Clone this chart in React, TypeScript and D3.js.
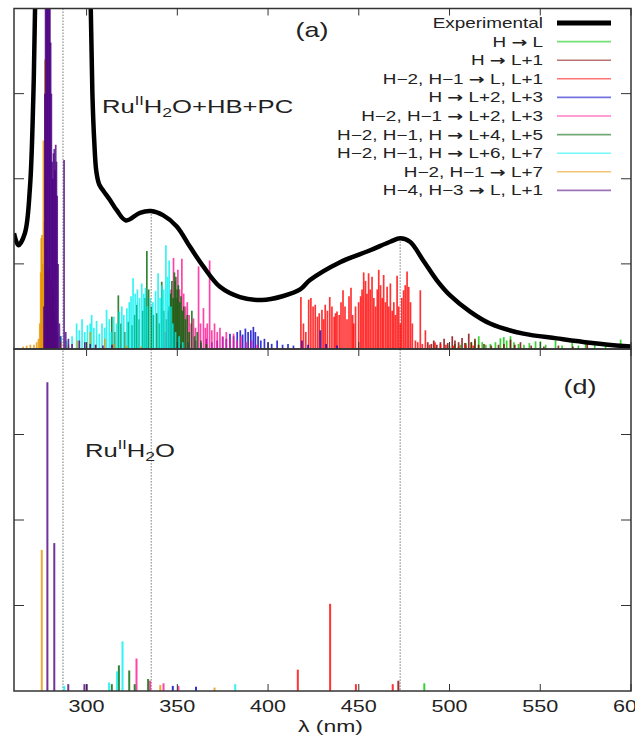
import React, { useEffect, useRef } from 'react';
import * as d3 from 'd3';

// legend order
const seriesLabels = [
  'H → L',
  'H → L+1',
  'H−2, H−1 → L, L+1',
  'H → L+2, L+3',
  'H−2, H−1 → L+2, L+3',
  'H−2, H−1, H → L+4, L+5',
  'H−2, H−1, H → L+6, L+7',
  'H−2, H−1 → L+7',
  'H−4, H−3 → L, L+1',
];
const seriesColors = ['#00c800', '#7f0000', '#ff0000', '#0000c8', '#ff1493', '#006400', '#00f0f0', '#e69500', '#4b0082'];

const xTicks = [300, 350, 400, 450, 500, 550, 600];
const yTicks = [1, 2, 3];

// experimental spectrum [nm, intensity]
const experimental: [number, number][] = [
  [260, 1.36], [262.4, 1.22], [266, 1.36], [268.8, 1.9], [270.6, 2.92], [271.6, 4.0], [272.8, 5.5],
  [301.2, 5.5], [302.3, 4.0], [303.2, 3.0], [304.2, 2.45], [305.4, 2.08], [307, 1.93], [309.2, 1.86],
  [312.9, 1.75], [316.6, 1.63], [321.7, 1.51], [329.4, 1.6], [335.5, 1.62], [342.3, 1.57], [349.7, 1.44],
  [357, 1.2], [364.3, 0.97], [373.5, 0.73], [384.5, 0.61], [396.5, 0.575], [408, 0.62], [417.7, 0.7],
  [423.1, 0.81], [439.7, 1.02], [456.3, 1.16], [467.3, 1.26], [472.8, 1.3], [478.2, 1.26], [485.5, 1.04],
  [492.9, 0.81], [500.3, 0.63], [511.3, 0.44], [522.3, 0.3], [540.7, 0.18], [559.1, 0.125], [577.4, 0.074],
  [595.8, 0.035], [600, 0.03],
];

// marker lines: position and where they start in panel (a)
const markerNm = [287, 335.6, 472.8];
const markerTopA = [4, 1.62, 1.3];

// panel (a) sticks [nm, intensity]
const aHL: [number, number][] = [
  [500, 0.04], [503, 0.06], [506, 0.05], [509, 0.07], [512, 0.08], [514, 0.1], [516.1, 0.15], [518, 0.08],
  [520, 0.05], [522.5, 0.06], [525.3, 0.08], [528, 0.125], [529.9, 0.14], [531.5, 0.1], [533.6, 0.15],
  [535.5, 0.08], [538, 0.06], [541, 0.05], [544, 0.07], [547.4, 0.09], [550.1, 0.09], [553, 0.05],
  [558.4, 0.1], [562, 0.04], [567.6, 0.07], [571, 0.04], [575, 0.08], [580, 0.05], [586, 0.04], [594.3, 0.11],
];
const aHL1: [number, number][] = [
  [488, 0.08], [490, 0.06], [491.3, 0.1], [493, 0.05], [495, 0.08], [497, 0.12], [499, 0.07], [501.5, 0.15],
  [503, 0.1], [505, 0.08], [506.9, 0.13], [508.5, 0.07], [510.6, 0.18], [512, 0.08], [514, 0.12], [516, 0.05],
  [519, 0.06], [523, 0.04], [527, 0.05], [530, 0.06], [533.6, 0.11], [536, 0.05], [539.1, 0.08], [545, 0.04],
  [552, 0.03], [560, 0.04], [568, 0.03], [575.9, 0.07],
];
const aH2H1LL1: [number, number][] = [
  [418.1, 0.61], [419.5, 0.3], [420.8, 0.2], [422.4, 0.58], [423.6, 0.6], [424.8, 0.5], [426, 0.52],
  [427.2, 0.38], [428.2, 0.42], [429.7, 0.46], [430.6, 0.35], [431.5, 0.52], [432.7, 0.45], [434, 0.61],
  [435.2, 0.5], [436.4, 0.38], [437.2, 0.42], [438, 0.44], [439.2, 0.4], [440.2, 0.55], [441.3, 0.69],
  [442.4, 0.5], [443.5, 0.35], [444.6, 0.62], [445.7, 0.72], [446.6, 0.4], [447.2, 0.3], [448.2, 0.5],
  [449.9, 0.55], [451, 0.62], [451.8, 0.7], [452.7, 0.9], [453.7, 0.8], [454.5, 0.65], [455.4, 0.89],
  [456.3, 0.7], [457.3, 0.85], [458.3, 0.6], [459.3, 0.5], [460.2, 0.7], [461, 0.93], [462, 0.75],
  [462.9, 0.6], [463.7, 0.87], [464.7, 0.55], [465.6, 0.73], [466.5, 0.5], [467.4, 0.77], [468.4, 0.45],
  [469.3, 0.55], [470.2, 0.4], [471.1, 0.86], [472, 0.5], [472.9, 0.3], [473.7, 0.6], [474.7, 0.69],
  [475.6, 0.75], [476.6, 0.91], [477.5, 0.73], [478.5, 0.55], [479.5, 0.3], [481.2, 0.1], [482.5, 0.08],
  [483.9, 0.69], [485, 0.06], [486.7, 0.22], [489, 0.05], [492, 0.08], [495, 0.06], [498, 0.05],
  [502, 0.04], [505, 0.03], [509, 0.05], [513, 0.04],
];
const aHL2L3: [number, number][] = [
  [352, 0.05], [356, 0.08], [360, 0.1], [363, 0.07], [366, 0.12], [369, 0.08], [372, 0.1], [375, 0.14],
  [377, 0.12], [379, 0.18], [381, 0.15], [383, 0.2], [384.7, 0.22], [386, 0.17], [387.5, 0.24], [389, 0.2],
  [390.5, 0.22], [391.9, 0.26], [393, 0.2], [394.5, 0.15], [396, 0.1], [398, 0.12], [400, 0.08], [402, 0.06],
  [405, 0.1], [408, 0.05], [411, 0.06], [414, 0.04], [418.7, 0.1], [422, 0.05], [428.8, 0.22], [432, 0.06],
  [438, 0.04],
];
const aH2H1L2L3: [number, number][] = [
  [343.5, 0.2], [345, 0.45], [346.5, 0.7], [347.9, 1.07], [348.8, 0.8], [349.6, 0.6], [350.3, 0.93],
  [351.2, 0.7], [352.5, 1.06], [353.5, 0.65], [354.5, 0.5], [355.5, 0.55], [356.5, 0.4], [357.6, 0.3],
  [358.9, 0.36], [360, 0.25], [361.7, 0.97], [362.8, 0.3], [364.4, 0.48], [365.5, 0.25], [366.5, 0.3],
  [367.8, 1.04], [369, 0.22], [370.5, 0.3], [372, 0.2], [373.5, 0.25], [375, 0.15], [377, 0.2], [379, 0.12],
  [381, 0.18], [383, 0.1], [385, 0.15], [388, 0.08], [391, 0.1], [394, 0.05],
];
const aL4L5: [number, number][] = [
  [313.9, 0.38], [315.5, 0.2], [317.5, 0.63], [319, 0.3], [321, 0.2], [323, 0.32], [325, 0.28], [326.5, 0.4],
  [327.7, 0.52], [329, 0.35], [331, 0.45], [332.2, 0.6], [333.2, 1.15], [334.2, 0.7], [335.5, 0.5],
  [336.8, 0.4], [338.7, 0.42], [340, 0.3], [341.4, 0.79], [342.5, 0.45], [344, 0.35], [345.5, 0.5],
  [346.3, 0.65], [347, 0.8], [347.7, 0.6], [348.4, 0.9], [349.2, 0.85], [349.9, 0.7], [350.6, 0.75],
  [351.3, 0.55], [352, 0.62], [352.8, 0.45], [353.6, 0.5], [354.5, 0.35], [355.5, 0.4], [356.5, 0.2],
  [358, 0.45], [359.5, 0.15], [361, 0.2], [363, 0.1], [366, 0.06],
];
const aL6L7: [number, number][] = [
  [281.5, 0.66], [282.5, 0.3], [284, 0.2], [286, 0.15], [289, 0.1], [292, 0.15], [294.5, 0.3], [296, 0.22],
  [297.5, 0.35], [299, 0.2], [300.5, 0.28], [302, 0.3], [302.8, 0.4], [304, 0.25], [305.5, 0.33], [307, 0.18],
  [308.5, 0.3], [310, 0.25], [311, 0.46], [312.5, 0.35], [313.5, 0.2], [315, 0.38], [316.5, 0.3], [318, 0.44],
  [319.4, 0.5], [320.5, 0.4], [322.2, 0.48], [323.5, 0.55], [324.5, 0.62], [325.6, 0.83], [326.8, 0.65],
  [328, 0.7], [329.2, 0.6], [330.4, 0.77], [331.5, 0.65], [332.5, 0.72], [333.5, 0.5], [335, 0.6],
  [336.5, 0.55], [338, 0.68], [339.4, 0.89], [340.5, 0.6], [341.5, 0.75], [342.5, 0.7], [343.7, 1.22],
  [344.6, 0.85], [345.5, 1.04], [346.5, 0.5], [347.5, 0.3], [349, 0.2], [351, 0.15], [353, 0.08],
];
const aL7: [number, number][] = [
  [265, 0.03], [267, 0.04], [269, 0.05], [271, 0.05], [272.5, 0.08], [273.5, 0.12], [274.2, 0.3],
  [274.7, 0.9], [275, 1.3], [275.4, 1.34], [275.8, 1.0], [276.2, 2.45], [276.6, 1.5], [277, 3.4],
  [277.4, 2.0], [277.8, 1.2], [278.3, 0.9], [278.8, 0.7], [279.3, 0.96], [279.8, 0.6], [280.4, 0.8],
  [281, 0.5], [281.6, 0.7], [282.3, 0.4], [283, 0.3], [284, 0.15], [286, 0.08], [290, 0.05], [295, 0.1],
  [300, 0.08], [302, 0.2], [305, 0.05], [310, 0.12], [315, 0.06], [322, 0.04], [330, 0.03],
];
const aH4H3: [number, number][] = [
  [276.5, 0.5], [277, 3.0], [277.4, 4.5], [277.8, 5.0], [278.2, 4.8], [278.6, 5.0], [279, 4.6], [279.4, 5.0],
  [279.8, 4.2], [280.2, 3.6], [280.6, 3.0], [281, 2.2], [281.4, 2.0], [281.8, 2.3], [282.2, 2.35],
  [282.6, 2.1], [283, 2.4], [283.4, 2.2], [283.8, 1.8], [284.3, 1.0], [285, 0.3], [285.6, 0.15],
  [287.6, 2.22], [288.5, 0.2], [290, 0.12], [292, 0.06], [296, 0.1], [299, 0.08], [302, 0.06], [305, 0.05],
  [309, 0.04], [314, 0.05],
];

// panel (d) sticks
const dHL: [number, number][] = [[486.1, 0.09]];
const dHL1: [number, number][] = [[471.8, 0.12]];
const dH2H1LL1: [number, number][] = [[416.4, 0.25], [434.2, 1.02], [448.4, 0.08], [468.7, 0.08]];
const dHL2L3: [number, number][] = [[347.5, 0.06], [360.3, 0.05]];
const dH2H1L2L3: [number, number][] = [[327.5, 0.38], [335, 0.12], [342.4, 0.09], [350.6, 0.06]];
const dL4L5: [number, number][] = [[313.9, 0.08], [317.8, 0.3], [323.5, 0.24], [326.5, 0.08], [333.9, 0.14]];
const dL6L7: [number, number][] = [[287.7, 0.06], [312.4, 0.1], [316.8, 0.23], [319.8, 0.58], [381.9, 0.08]];
const dL7: [number, number][] = [[275.3, 1.65], [340.6, 0.07], [370.5, 0.04]];
const dH4H3: [number, number][] = [[278.4, 3.61], [282.2, 1.73], [289.9, 0.08], [298.8, 0.08], [300.1, 0.08]];

const sticksA = [aHL, aHL1, aH2H1LL1, aHL2L3, aH2H1L2L3, aL4L5, aL6L7, aL7, aH4H3];
const sticksD = [dHL, dHL1, dH2H1LL1, dHL2L3, dH2H1L2L3, dL4L5, dL6L7, dL7, dH4H3];

const W = 635;
const H = 736;
const FONT = '"Liberation Sans", Arial, Helvetica, sans-serif';
const STRETCH = 1.35;

const App = () => {
  const ref = useRef<SVGSVGElement>(null);

  useEffect(() => {
    const svg = d3.select(ref.current);
    svg.selectAll('*').remove();

    const left = 14, right = 631, top = 8.5, mid = 349, bottom = 691;

    const x = d3.scaleLinear().domain([260, 600]).range([left, right]);
    const yA = d3.scaleLinear().domain([0, 4]).range([mid, top]);
    const yD = d3.scaleLinear().domain([0, 4]).range([bottom, mid]);

    const defs = svg.append('defs');
    defs.append('clipPath').attr('id', 'clipA')
      .append('rect').attr('x', left).attr('y', top).attr('width', right - left).attr('height', mid - top);
    defs.append('clipPath').attr('id', 'clipD')
      .append('rect').attr('x', left).attr('y', mid).attr('width', right - left).attr('height', bottom - mid);

    const text = (g: any, tx: number, ty: number, str: string, size: number, anchor = 'middle') => {
      const t = g.append('text')
        .attr('transform', `translate(${tx},${ty}) scale(${STRETCH},1)`)
        .attr('text-anchor', anchor)
        .attr('font-family', FONT)
        .attr('font-size', size)
        .attr('fill', '#222');
      // arrows drawn in a font with a proper full-width arrow
      str.split('→').forEach((part, i) => {
        if (i > 0) t.append('tspan').attr('font-family', '"DejaVu Sans"').attr('font-weight', 'bold').text('→');
        t.append('tspan').text(part);
      });
      return t;
    };

    // marker lines
    markerNm.forEach((nm, i) => {
      svg.append('line')
        .attr('x1', x(nm)).attr('x2', x(nm))
        .attr('y1', yA(markerTopA[i])).attr('y2', bottom)
        .attr('stroke', '#777').attr('stroke-width', 1).attr('stroke-dasharray', '1.5,1.5');
    });

    // panel (a) sticks
    const gA = svg.append('g').attr('clip-path', 'url(#clipA)');
    sticksA.forEach((s, i) => {
      gA.append('g').selectAll('line').data(s).join('line')
        .attr('x1', d => x(d[0])).attr('x2', d => x(d[0]))
        .attr('y1', yA(0)).attr('y2', d => yA(d[1]))
        .attr('stroke', seriesColors[i]).attr('stroke-width', 1.7).attr('stroke-opacity', 0.8);
    });

    // experimental curve
    const line = d3.line<[number, number]>()
      .x(d => x(d[0])).y(d => yA(d[1]))
      .curve(d3.curveCatmullRom.alpha(0.5));
    gA.append('path').datum(experimental)
      .attr('fill', 'none').attr('stroke', '#000').attr('stroke-width', 4.5)
      .attr('stroke-linejoin', 'round')
      .attr('d', line);

    // panel (d) sticks
    const gD = svg.append('g').attr('clip-path', 'url(#clipD)');
    sticksD.forEach((s, i) => {
      gD.append('g').selectAll('line').data(s).join('line')
        .attr('x1', d => x(d[0])).attr('x2', d => x(d[0]))
        .attr('y1', yD(0)).attr('y2', d => yD(d[1]))
        .attr('stroke', seriesColors[i]).attr('stroke-width', 2).attr('stroke-opacity', 0.8);
    });

    // frames and ticks
    const frame = svg.append('g').attr('stroke', '#333').attr('fill', 'none');
    [[top, mid, yA], [mid, bottom, yD]].forEach(([t, b, ys]: any) => {
      frame.append('rect').attr('x', left).attr('y', t).attr('width', right - left).attr('height', b - t)
        .attr('stroke-width', 1.5);
      xTicks.forEach(v => {
        frame.append('line').attr('x1', x(v)).attr('x2', x(v)).attr('y1', b).attr('y2', b - 7).attr('stroke-width', 1);
        frame.append('line').attr('x1', x(v)).attr('x2', x(v)).attr('y1', t).attr('y2', t + 7).attr('stroke-width', 1);
      });
      yTicks.forEach(v => {
        frame.append('line').attr('x1', left).attr('x2', left + 10).attr('y1', ys(v)).attr('y2', ys(v)).attr('stroke-width', 1);
        frame.append('line').attr('x1', right).attr('x2', right - 10).attr('y1', ys(v)).attr('y2', ys(v)).attr('stroke-width', 1);
      });
    });

    // x tick labels (the last one runs off the page edge, as in the original)
    xTicks.forEach(v => text(svg, x(v), 712, String(v), 16));
    text(svg, (left + right) / 2 + 8, 732, 'λ (nm)', 17);

    // panel labels
    text(svg, 312, 37, '(a)', 20);
    text(svg, 580, 394, '(d)', 20);

    const formula = (tx: number, ty: number, tail: string) => {
      const t = svg.append('text')
        .attr('transform', `translate(${tx},${ty}) scale(${STRETCH},1)`)
        .attr('font-family', FONT).attr('font-size', 19).attr('fill', '#222');
      t.append('tspan').text('Ru');
      t.append('tspan').attr('font-size', 12).attr('dy', -8).text('II');
      t.append('tspan').attr('dy', 8).text('H');
      t.append('tspan').attr('font-size', 13).attr('dy', 4).text('2');
      t.append('tspan').attr('dy', -4).text(tail);
    };
    formula(102, 113, 'O+HB+PC');
    formula(85, 457, 'O');

    // legend
    const rowY = (i: number) => 23 + i * 18.6;
    const lg = svg.append('g');
    text(lg, 543, rowY(0) + 5, 'Experimental', 14, 'end');
    lg.append('line').attr('x1', 557).attr('x2', 611).attr('y1', rowY(0)).attr('y2', rowY(0))
      .attr('stroke', '#000').attr('stroke-width', 5);
    seriesLabels.forEach((lab, i) => {
      const yy = rowY(i + 1);
      text(lg, 543, yy + 5, lab, 14, 'end');
      lg.append('line').attr('x1', 557).attr('x2', 611).attr('y1', yy).attr('y2', yy)
        .attr('stroke', seriesColors[i]).attr('stroke-width', 1.6).attr('stroke-opacity', 0.55);
    });
  }, []);

  return (
    <svg ref={ref} width={W} height={H} style={{ position: 'absolute', left: 0, top: 0, background: '#fff' }} />
  );
};

export default App;
